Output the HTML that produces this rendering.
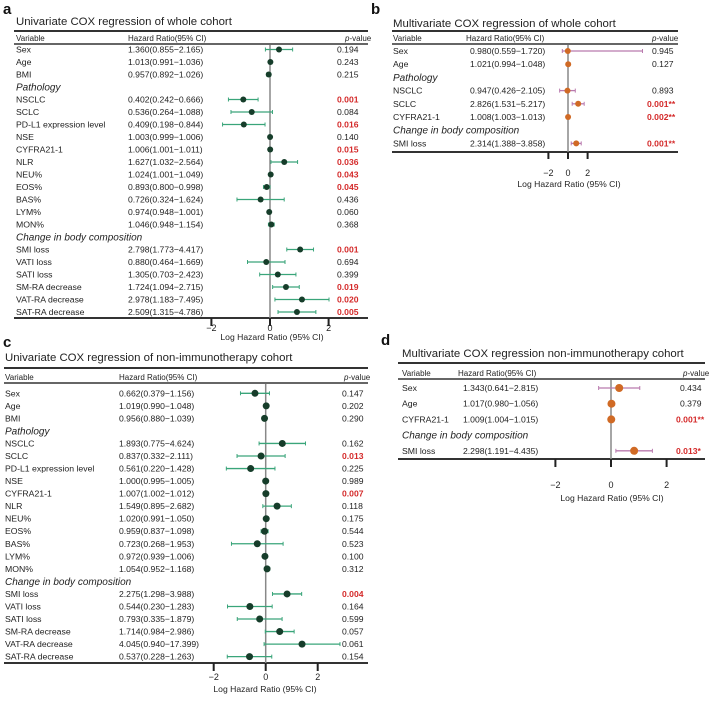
<!DOCTYPE html>
<html><head><meta charset="utf-8">
<style>
html,body{margin:0;padding:0;background:#fff;}
svg{display:block;font-family:"Liberation Sans",Arial,sans-serif;}
</style></head>
<body>
<svg id="fig" width="709" height="703" viewBox="0 0 709 703" xmlns="http://www.w3.org/2000/svg"></svg>
<script>
// ---------- Panel a data ----------
const aLabels = ["Sex","Age","BMI","#Pathology","NSCLC","SCLC","PD-L1 expression level","NSE","CYFRA21-1","NLR","NEU%","EOS%","BAS%","LYM%","MON%","#Change in body composition","SMI loss","VATI loss","SATI loss","SM-RA decrease","VAT-RA decrease","SAT-RA decrease"];
const aHR  = [1.360,1.013,0.957,null,0.402,0.536,0.409,1.003,1.006,1.627,1.024,0.893,0.726,0.974,1.046,null,2.798,0.880,1.305,1.724,2.978,2.509];
const aLo  = [0.855,0.991,0.892,null,0.242,0.264,0.198,0.999,1.001,1.032,1.001,0.800,0.324,0.948,0.948,null,1.773,0.464,0.703,1.094,1.183,1.315];
const aHi  = [2.165,1.036,1.026,null,0.666,1.088,0.844,1.006,1.011,2.564,1.049,0.998,1.624,1.001,1.154,null,4.417,1.669,2.423,2.715,7.495,4.786];
const aCI  = ["1.360(0.855−2.165)","1.013(0.991−1.036)","0.957(0.892−1.026)","","0.402(0.242−0.666)","0.536(0.264−1.088)","0.409(0.198−0.844)","1.003(0.999−1.006)","1.006(1.001−1.011)","1.627(1.032−2.564)","1.024(1.001−1.049)","0.893(0.800−0.998)","0.726(0.324−1.624)","0.974(0.948−1.001)","1.046(0.948−1.154)","","2.798(1.773−4.417)","0.880(0.464−1.669)","1.305(0.703−2.423)","1.724(1.094−2.715)","2.978(1.183−7.495)","2.509(1.315−4.786)"];
const aP   = ["0.194","0.243","0.215","","0.001","0.084","0.016","0.140","0.015","0.036","0.043","0.045","0.436","0.060","0.368","","0.001","0.694","0.399","0.019","0.020","0.005"];
const aSig = [0,0,0,0,1,0,1,0,1,1,1,1,0,0,0,0,1,0,0,1,1,1];

// ---------- Panel b data ----------
const bLabels = ["Sex","Age","#Pathology","NSCLC","SCLC","CYFRA21-1","#Change in body composition","SMI loss"];
const bHR  = [0.980,1.021,null,0.947,2.826,1.008,null,2.314];
const bLo  = [0.559,0.994,null,0.426,1.531,1.003,null,1.388];
const bHi  = [2000,1.048,null,2.105,5.217,1.013,null,3.858];
const bCI  = ["0.980(0.559−1.720)","1.021(0.994−1.048)","","0.947(0.426−2.105)","2.826(1.531−5.217)","1.008(1.003−1.013)","","2.314(1.388−3.858)"];
const bP   = ["0.945","0.127","","0.893","0.001**","0.002**","","0.001**"];
const bSig = [0,0,0,0,1,1,0,1];

// ---------- Panel c data ----------
const cLabels = aLabels.slice();
const cHR  = [0.662,1.019,0.956,null,1.893,0.837,0.561,1.000,1.007,1.549,1.020,0.959,0.723,0.972,1.054,null,2.275,0.544,0.793,1.714,4.045,0.537];
const cLo  = [0.379,0.990,0.880,null,0.775,0.332,0.220,0.995,1.002,0.895,0.991,0.837,0.268,0.939,0.952,null,1.298,0.230,0.335,0.984,0.940,0.228];
const cHi  = [1.156,1.048,1.039,null,4.624,2.111,1.428,1.005,1.012,2.682,1.050,1.098,1.953,1.006,1.168,null,3.988,1.283,1.879,2.986,17.399,1.263];
const cCI  = ["0.662(0.379−1.156)","1.019(0.990−1.048)","0.956(0.880−1.039)","","1.893(0.775−4.624)","0.837(0.332−2.111)","0.561(0.220−1.428)","1.000(0.995−1.005)","1.007(1.002−1.012)","1.549(0.895−2.682)","1.020(0.991−1.050)","0.959(0.837−1.098)","0.723(0.268−1.953)","0.972(0.939−1.006)","1.054(0.952−1.168)","","2.275(1.298−3.988)","0.544(0.230−1.283)","0.793(0.335−1.879)","1.714(0.984−2.986)","4.045(0.940−17.399)","0.537(0.228−1.263)"];
const cP   = ["0.147","0.202","0.290","","0.162","0.013","0.225","0.989","0.007","0.118","0.175","0.544","0.523","0.100","0.312","","0.004","0.164","0.599","0.057","0.061","0.154"];
const cSig = [0,0,0,0,0,1,0,0,1,0,0,0,0,0,0,0,1,0,0,0,0,0];

// ---------- Panel d data ----------
const dLabels = ["Sex","Age","CYFRA21-1","#Change in body composition","SMI loss"];
const dHR  = [1.343,1.017,1.009,null,2.298];
const dLo  = [0.641,0.980,1.004,null,1.191];
const dHi  = [2.815,1.056,1.015,null,4.435];
const dCI  = ["1.343(0.641−2.815)","1.017(0.980−1.056)","1.009(1.004−1.015)","","2.298(1.191−4.435)"];
const dP   = ["0.434","0.379","0.001**","","0.013*"];
const dSig = [0,0,1,0,1];

const tickVals = [-2,0,2];
const tickText = ["−2","0","2"];

const NS="http://www.w3.org/2000/svg";
const svg=document.getElementById('fig');
function mk(tag,attrs,parent){const e=document.createElementNS(NS,tag);for(const k in attrs)e.setAttribute(k,attrs[k]);(parent||svg).appendChild(e);return e;}
function txt(s,x,y,size,parent,extra){const t=mk('text',Object.assign({x:x,y:y,'font-size':size,fill:'#222'},extra||{}),parent);t.textContent=s;return t;}

function panel(P){
  const g=mk('g',{});
  
  
  const xs=v=>P.x0+v*P.unit;
  const rowY=i=>P.row0+i*P.rowH;
  const L=txt(P.id,P.lx,P.ly,15,g,{'font-weight':'bold',fill:'#111'});
  
  
  const T=txt(P.title,P.tx,P.ty,11.4,g,{fill:'#222'});
  
  
  mk('line',{x1:P.l1,x2:P.l2,y1:P.top,y2:P.top,stroke:'#333','stroke-width':2},g);
  mk('line',{x1:P.l1,x2:P.l2,y1:P.hline,y2:P.hline,stroke:'#333','stroke-width':1.5},g);
  mk('line',{x1:P.l1,x2:P.l2,y1:P.bot,y2:P.bot,stroke:'#333','stroke-width':2},g);
  const hv=txt('Variable',P.cv,P.hy+3,8,g);
  
  
  const hh=txt('Hazard Ratio(95% CI)',P.ch,P.hy+3,8,g);
  
  
  const hp=mk('text',{x:P.cph,y:P.hy+3,'font-size':8,fill:'#222'},g);
  hp.innerHTML='<tspan font-style="italic">p</tspan>-value';
  
  
  const zl=mk('line',{x1:xs(0),x2:xs(0),y1:P.hline+1,y2:P.bot,stroke:'#888','stroke-width':1.5},g);
  
  
  P.labels.forEach((lab,i)=>{
    const y=rowY(i);
    if(lab[0]==='#'){
      const s=txt(lab.slice(1),P.cv,y+3.5,10,g,{'font-style':'italic'});
      
      
      return;
    }
    const a=txt(lab,P.cv,y+3,8.7,g);
    
    
    const b=txt(P.ci[i],P.chv,y+3,8.6,g);
    
    
    const sig=P.sig[i];
    const c=txt(P.p[i],sig?P.cps:P.cp,y+3,8.6,g,sig?{fill:'#d42a2a','font-weight':'bold'}:{});
    
    
    const lo=xs(Math.log(P.lo[i])), hi=xs(Math.log(P.hi[i])), e=xs(Math.log(P.hr[i]));
    const ln=mk('line',{x1:lo,x2:hi,y1:y,y2:y,stroke:P.lc,'stroke-width':1.3},g);
    
    
    mk('line',{x1:lo,x2:lo,y1:y-2,y2:y+2,stroke:P.lc,'stroke-width':1},g);
    mk('line',{x1:hi,x2:hi,y1:y-2,y2:y+2,stroke:P.lc,'stroke-width':1},g);
    const pt=mk('circle',{cx:e,cy:y,r:P.r,fill:P.pc},g);
    
    
  });
  tickVals.forEach((v,k)=>{
    const tk=mk('line',{x1:xs(v),x2:xs(v),y1:P.bot,y2:P.bot+P.tl,stroke:'#222','stroke-width':2},g);
    
    
    const tt=txt(tickText[k],xs(v),P.tky+3,9,g,{'text-anchor':'middle'});
    
    
  });
  const at=txt('Log Hazard Ratio (95% CI)',P.axc,P.aty+3,8.6,g,{'text-anchor':'middle'});
  
  
}

const green='#3aa57a', dg='#163d2a', pink='#b97aae', orng='#d06a25';
panel({id:'a',title:'Univariate COX regression of whole cohort',lx:3,ly:14,tx:16,ty:25,top:31,hline:44,hy:38,
  row0:49.5,rowH:12.5,bot:318,tl:8,tky:328,aty:337,axc:272,l1:14,l2:368,cv:16,ch:128,chv:128,cph:345,cp:337,cps:337,
  x0:270,unit:29.3,r:3,lc:green,pc:dg,labels:aLabels,hr:aHR,lo:aLo,hi:aHi,ci:aCI,p:aP,sig:aSig});
panel({id:'b',title:'Multivariate COX regression of whole cohort',lx:371,ly:14,tx:393,ty:27,top:31,hline:44,hy:38,
  row0:51,rowH:13.2,bot:152,tl:7,tky:173,aty:184,axc:569,l1:392,l2:678,cv:393,ch:466,chv:470,cph:652,cp:652,cps:647,
  x0:568,unit:9.8,r:3,lc:pink,pc:orng,labels:bLabels,hr:bHR,lo:bLo,hi:bHi,ci:bCI,p:bP,sig:bSig});
panel({id:'c',title:'Univariate COX regression of non-immunotherapy cohort',lx:3,ly:347,tx:5,ty:361,top:368,hline:383,hy:377,
  row0:393.3,rowH:12.54,bot:663,tl:8,tky:677,aty:689,axc:265,l1:4,l2:368,cv:5,ch:119,chv:119,cph:344,cp:342,cps:342,
  x0:265.7,unit:26,r:3.5,lc:green,pc:dg,labels:cLabels,hr:cHR,lo:cLo,hi:cHi,ci:cCI,p:cP,sig:cSig});
panel({id:'d',title:'Multivariate COX regression  non-immunotherapy cohort',lx:381,ly:345,tx:402,ty:357,top:363,hline:379,hy:373,
  row0:388,rowH:15.7,bot:459,tl:8,tky:485,aty:498,axc:612,l1:398,l2:705,cv:402,ch:458,chv:463,cph:683,cp:680,cps:676,
  x0:611,unit:27.8,r:4,lc:pink,pc:orng,labels:dLabels,hr:dHR,lo:dLo,hi:dHi,ci:dCI,p:dP,sig:dSig});
</script>
</body></html>
